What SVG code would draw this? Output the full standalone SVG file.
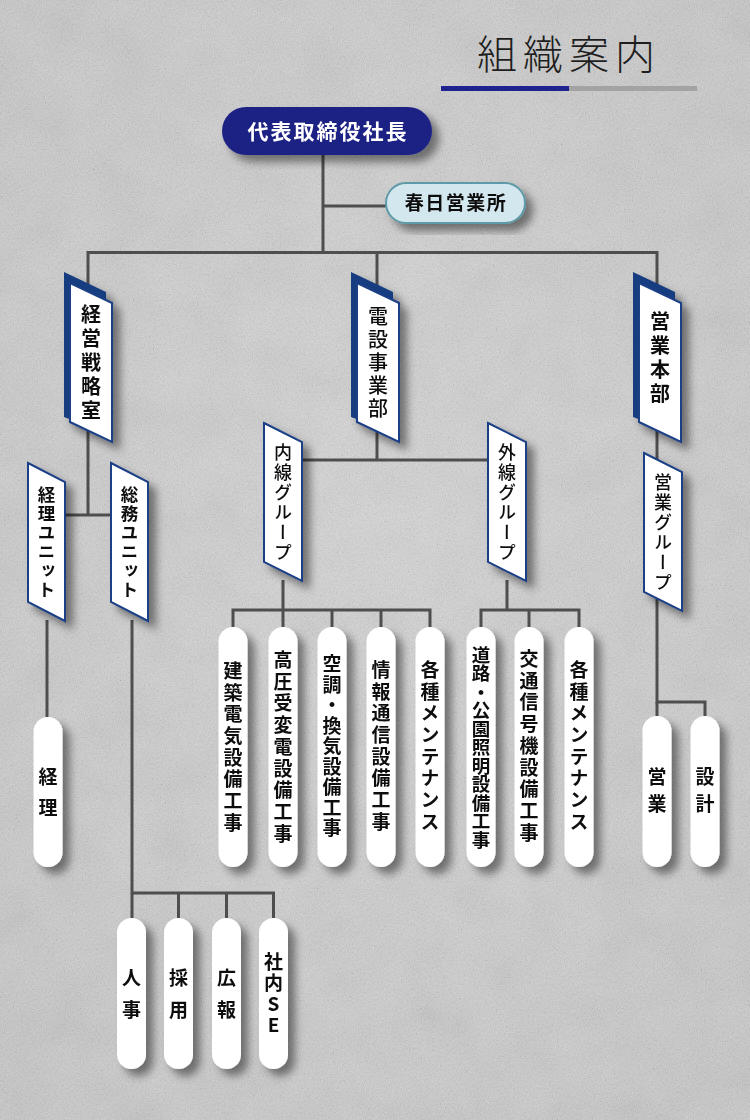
<svg xmlns="http://www.w3.org/2000/svg" width="750" height="1120" viewBox="0 0 750 1120">
<defs>
<style>
.ln{fill:none;stroke:#4e4e4e;stroke-width:3;stroke-linejoin:miter;stroke-linecap:butt}
.pill{fill:#ffffff}
.bn{fill:#ffffff;stroke:#1b3f86;stroke-width:2;stroke-linejoin:miter}
.bk{fill:#173c80}
.vt{writing-mode:vertical-rl;text-orientation:upright;font-family:"Noto Sans CJK JP","Noto Sans CJK SC",sans-serif;text-anchor:middle;fill:#111111}
.pt{font-size:19px;font-weight:700;letter-spacing:2.7px}
.bt{font-size:20px;font-weight:700;letter-spacing:4px}
.st{font-size:18px;font-weight:500;letter-spacing:2px}
.hz{font-family:"Noto Sans CJK JP","Noto Sans CJK SC",sans-serif;text-anchor:middle}
</style>
<radialGradient id="bgg" cx="50%" cy="45%" r="70%">
<stop offset="0" stop-color="#d4d4d4"/>
<stop offset="1" stop-color="#c6c6c6"/>
</radialGradient>
<filter id="grain" x="0" y="0" width="750" height="1120" filterUnits="userSpaceOnUse">
<feTurbulence type="fractalNoise" baseFrequency="0.75" numOctaves="3" seed="5"/>
<feColorMatrix type="matrix" values="0.7 0.7 0.7 0 -0.55  0.7 0.7 0.7 0 -0.55  0.7 0.7 0.7 0 -0.55  0 0 0 0 0.16"/>
</filter>
<filter id="blot" x="0" y="0" width="750" height="1120" filterUnits="userSpaceOnUse">
<feTurbulence type="fractalNoise" baseFrequency="0.02" numOctaves="3" seed="11"/>
<feColorMatrix type="matrix" values="0.6 0.6 0.6 0 -0.3  0.6 0.6 0.6 0 -0.3  0.6 0.6 0.6 0 -0.3  0 0 0 0 0.07"/>
</filter>
<filter id="sh" x="-40%" y="-20%" width="200%" height="150%">
<feDropShadow dx="7" dy="7" stdDeviation="4.5" flood-color="#000000" flood-opacity="0.45"/>
</filter>
</defs>

<!-- background -->
<rect x="0" y="0" width="750" height="1120" fill="url(#bgg)"/>
<rect x="0" y="0" width="750" height="1120" filter="url(#blot)"/>
<rect x="0" y="0" width="750" height="1120" filter="url(#grain)"/>

<!-- title -->
<g id="title">
<text x="477" y="69" font-family="Noto Sans CJK JP, Noto Sans CJK SC, sans-serif" font-size="40" font-weight="300" letter-spacing="6" fill="#1e1e1e">組織案内</text>
<rect x="441" y="86" width="128" height="5" fill="#1f2390"/>
<rect x="569" y="86" width="128" height="5" fill="#a3a3a3"/>
</g>

<!-- connectors -->
<g id="connectors">
<path class="ln" d="M323 155 V252.5"/>
<path class="ln" d="M323 206 H386"/>
<path class="ln" d="M88 515 V252.5 H657 V702 H705 V716"/>
<path class="ln" d="M657 702 V716"/>
<path class="ln" d="M377 252.5 V460"/>
<path class="ln" d="M65 515 H111"/>
<path class="ln" d="M47 620 V717"/>
<path class="ln" d="M132 620 V918"/>
<path class="ln" d="M132 893 H273.5 V918"/>
<path class="ln" d="M178.5 893 V918"/>
<path class="ln" d="M226.5 893 V918"/>
<path class="ln" d="M302 460 H488"/>
<path class="ln" d="M283 580 V610"/>
<path class="ln" d="M233 627 V610 H430 V627"/>
<path class="ln" d="M283 610 V627"/>
<path class="ln" d="M332 610 V627"/>
<path class="ln" d="M381 610 V627"/>
<path class="ln" d="M507 580 V610"/>
<path class="ln" d="M481 627 V610 H579 V627"/>
<path class="ln" d="M529 610 V627"/>
</g>

<!-- top node -->
<g id="n-president" filter="url(#sh)">
<rect x="222" y="107" width="210" height="48" rx="24" fill="#1e2184"/>
<text class="hz" x="328" y="139" font-size="21" font-weight="700" letter-spacing="2" fill="#ffffff">代表取締役社長</text>
</g>

<g id="n-kasuga" filter="url(#sh)">
<rect x="386" y="183" width="139" height="40" rx="20" fill="#d3e8ee" stroke="#5f9aa8" stroke-width="2"/>
<text class="hz" x="456" y="210" font-size="19" font-weight="700" letter-spacing="1.5" fill="#111111">春日営業所</text>
</g>

<!-- main banners -->
<g id="n-keiei" filter="url(#sh)">
<polygon class="bk" points="64,272 106,292 106,433 64,417"/>
<polygon class="bn" points="70,283 112,303 112,442 70,422"/>
<text class="vt bt" x="91" y="364">経営戦略室</text>
</g>

<g id="n-densetsu" filter="url(#sh)">
<polygon class="bk" points="351,272 393,292 393,433 351,417"/>
<polygon class="bn" points="357,283 399,303 399,442 357,422"/>
<text class="vt bt" x="378" y="364" style="font-weight:500;letter-spacing:3px">電設事業部</text>
</g>

<g id="n-eigyohonbu" filter="url(#sh)">
<polygon class="bk" points="633,272 675,292 675,433 633,417"/>
<polygon class="bn" points="639,283 681,303 681,442 639,422"/>
<text class="vt bt" x="660" y="359">営業本部</text>
</g>

<!-- sub banners -->
<g id="n-keiri-unit" filter="url(#sh)">
<polygon class="bn" points="28,463 65,482 65,621 28,602"/>
<text class="vt st" x="46.5" y="543" style="font-weight:700;font-size:17.5px;letter-spacing:1.5px">経理ユニット</text>
</g>

<g id="n-somu-unit" filter="url(#sh)">
<polygon class="bn" points="111,463 148,482 148,621 111,602"/>
<text class="vt st" x="129.5" y="543" style="font-weight:700;font-size:17.5px;letter-spacing:1.5px">総務ユニット</text>
</g>

<g id="n-naisen" filter="url(#sh)">
<polygon class="bn" points="264,423 302,442 302,581 264,562"/>
<text class="vt st" x="283" y="503">内線グループ</text>
</g>

<g id="n-gaisen" filter="url(#sh)">
<polygon class="bn" points="488,423 526,442 526,581 488,562"/>
<text class="vt st" x="507" y="503">外線グループ</text>
</g>

<g id="n-eigyo-group" filter="url(#sh)">
<polygon class="bn" points="644,453 682,472 682,611 644,592"/>
<text class="vt st" x="663" y="533">営業グループ</text>
</g>

<!-- pills: naisen -->
<g id="n-kenchiku" filter="url(#sh)">
<rect class="pill" x="218.5" y="627" width="29" height="240" rx="14.5"/>
<text class="vt pt" x="233" y="748">建築電気設備工事</text>
</g>
<g id="n-koatsu" filter="url(#sh)">
<rect class="pill" x="268.5" y="627" width="29" height="240" rx="14.5"/>
<text class="vt pt" x="283" y="748">高圧受変電設備工事</text>
</g>
<g id="n-kucho" filter="url(#sh)">
<rect class="pill" x="317.5" y="627" width="29" height="240" rx="14.5"/>
<text class="vt pt" x="332" y="747" style="letter-spacing:1.5px">空調・換気設備工事</text>
</g>
<g id="n-joho" filter="url(#sh)">
<rect class="pill" x="366.5" y="627" width="29" height="240" rx="14.5"/>
<text class="vt pt" x="381" y="747">情報通信設備工事</text>
</g>
<g id="n-maint1" filter="url(#sh)">
<rect class="pill" x="415.5" y="627" width="29" height="240" rx="14.5"/>
<text class="vt pt" x="430" y="747">各種メンテナンス</text>
</g>

<!-- pills: gaisen -->
<g id="n-doro" filter="url(#sh)">
<rect class="pill" x="466.5" y="627" width="29" height="240" rx="14.5"/>
<text class="vt pt" x="481" y="747" style="font-size:18.5px;letter-spacing:0px">道路・公園照明設備工事</text>
</g>
<g id="n-kotsu" filter="url(#sh)">
<rect class="pill" x="514.5" y="627" width="29" height="240" rx="14.5"/>
<text class="vt pt" x="529" y="747">交通信号機設備工事</text>
</g>
<g id="n-maint2" filter="url(#sh)">
<rect class="pill" x="564.5" y="627" width="29" height="240" rx="14.5"/>
<text class="vt pt" x="579" y="747">各種メンテナンス</text>
</g>

<!-- pills: eigyo -->
<g id="n-eigyo" filter="url(#sh)">
<rect class="pill" x="642.5" y="716" width="29" height="151" rx="14.5"/>
<text class="vt pt" x="657" y="794" style="letter-spacing:8px">営業</text>
</g>
<g id="n-sekkei" filter="url(#sh)">
<rect class="pill" x="690.5" y="716" width="29" height="151" rx="14.5"/>
<text class="vt pt" x="705" y="794" style="letter-spacing:8px">設計</text>
</g>

<!-- pills: keiri -->
<g id="n-keiri" filter="url(#sh)">
<rect class="pill" x="33.5" y="717" width="29" height="150" rx="14.5"/>
<text class="vt pt" x="48" y="798" style="letter-spacing:12px">経理</text>
</g>

<!-- pills: somu -->
<g id="n-jinji" filter="url(#sh)">
<rect class="pill" x="117" y="918" width="29" height="151" rx="14.5"/>
<text class="vt pt" x="131.5" y="1000" style="letter-spacing:13px">人事</text>
</g>
<g id="n-saiyo" filter="url(#sh)">
<rect class="pill" x="164" y="918" width="29" height="151" rx="14.5"/>
<text class="vt pt" x="178.5" y="1000" style="letter-spacing:13px">採用</text>
</g>
<g id="n-koho" filter="url(#sh)">
<rect class="pill" x="212" y="918" width="29" height="151" rx="14.5"/>
<text class="vt pt" x="226.5" y="1000" style="letter-spacing:13px">広報</text>
</g>
<g id="n-shanaise" filter="url(#sh)">
<rect class="pill" x="259" y="918" width="29" height="151" rx="14.5"/>
<text class="vt pt" x="273.5" y="994" style="letter-spacing:2px">社内SE</text>
</g>
</svg>
